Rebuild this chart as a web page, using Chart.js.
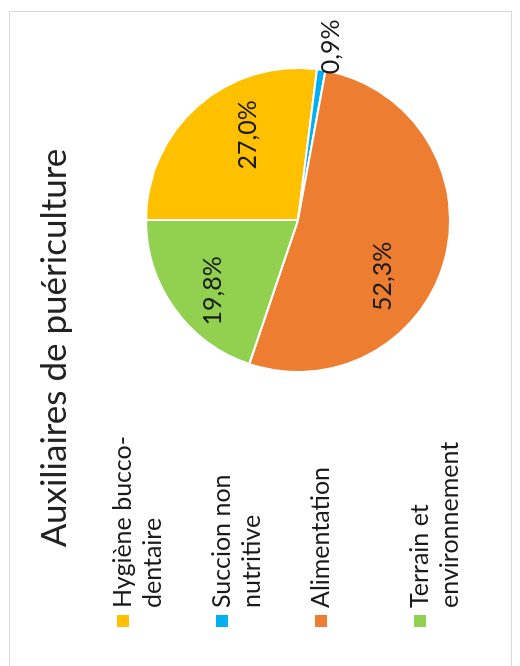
<!DOCTYPE html>
<html lang="fr">
<head>
<meta charset="UTF-8">
<title>Auxiliaires de puériculture</title>
<style>
  body { margin: 0; background: #fff; width: 520px; height: 666px; overflow: hidden; position: relative; }
  .frame { position: absolute; left: 9px; top: 11px; width: 503px; height: 700px; border: 1px solid #d9d9d9; box-sizing: border-box; }
  /* the chart was laid out landscape and turned a quarter turn to the left */
  .turned { position: absolute; left: -74px; top: 94px; width: 669px; height: 503px; transform: rotate(-90deg); }
</style>
</head>
<body>
<div class="frame"></div>
<div class="turned"><canvas id="pie" width="669" height="503"></canvas></div>

<script src="https://cdn.jsdelivr.net/npm/chart.js"></script>
<script>
const chartTitle = 'Auxiliaires de puériculture';
const categories = [['Hygiène bucco-', 'dentaire'], ['Succion non', 'nutritive'], ['Alimentation'], ['Terrain et', 'environnement']];
const shares = [27.0, 0.9, 52.3, 19.8];
const sliceColors = ['#FFC000', '#00B0F0', '#ED7D31', '#92D050'];

const FONT = 'Lato, "Open Sans", sans-serif';
// where each percentage sits: [turn from slice middle in degrees, fraction of radius]
const labelNudge = [[11, 0.65], [2, 1.16], [19, 0.67], [-4, 0.73]];

const textPlugin = {
    id: 'textPlugin',
    afterDatasetsDraw(chart) {
        const ctx = chart.ctx;
        ctx.save();
        ctx.textAlign = 'center';
        ctx.textBaseline = 'middle';

        // percentages on the slices
        ctx.font = '25px ' + FONT;
        ctx.fillStyle = '#1a1a1a';
        chart.getDatasetMeta(0).data.forEach((arc, i) => {
            const p = arc.getProps(['x', 'y', 'startAngle', 'endAngle', 'outerRadius'], true);
            const a = (p.startAngle + p.endAngle) / 2 + labelNudge[i][0] * Math.PI / 180;
            const r = p.outerRadius * labelNudge[i][1];
            const txt = shares[i].toFixed(1).replace('.', ',') + '%';
            ctx.fillText(txt, p.x + Math.cos(a) * r, p.y + Math.sin(a) * r);
        });

        // title
        ctx.font = '35px ' + FONT;
        ctx.fillStyle = '#222';
        ctx.fillText(chartTitle, 332, 46);

        // legend on the left, one item under the other
        ctx.font = '25px ' + FONT;
        ctx.textAlign = 'left';
        categories.forEach((lines, i) => {
            const y = 114 + i * 99;
            ctx.fillStyle = sliceColors[i];
            ctx.fillRect(53, y - 6, 12, 12);
            ctx.fillStyle = '#1a1a1a';
            lines.forEach((line, k) => ctx.fillText(line, 72, y + k * 30));
        });
        ctx.restore();
    }
};

new Chart(document.getElementById('pie'), {
    type: 'pie',
    data: {
        labels: categories.map(l => l.join(' ')),
        datasets: [{
            data: shares,
            backgroundColor: sliceColors,
            borderColor: '#fff',
            borderWidth: 2
        }]
    },
    options: {
        responsive: false,
        animation: false,
        devicePixelRatio: 1,
        layout: { padding: { left: 307, right: 56, top: 136, bottom: 61 } },
        plugins: {
            legend: { display: false },
            title: { display: false },
            tooltip: { enabled: false }
        }
    },
    plugins: [textPlugin]
});
</script>
</body>
</html>
